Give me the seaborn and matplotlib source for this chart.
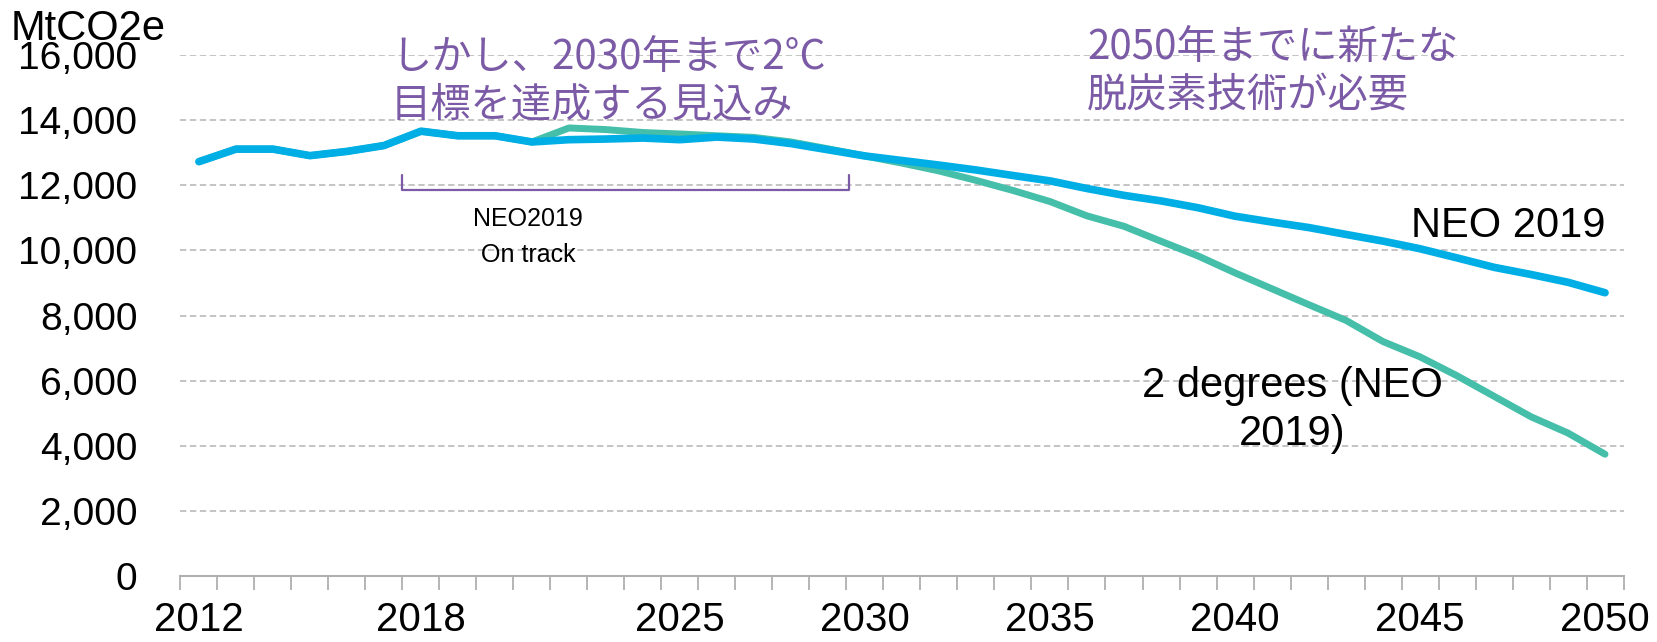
import matplotlib
matplotlib.use("Agg")
import matplotlib.pyplot as plt
import matplotlib.ticker as mticker
import numpy as np
import pandas as pd
import seaborn as sns

# data (MtCO2e)
years = list(range(2012, 2051))
neo_2019 = [12725, 13110, 13110, 12910, 13040, 13220, 13660, 13520, 13520, 13330,
            13400, 13420, 13450, 13400, 13480, 13420, 13280, 13090, 12900, 12760,
            12620, 12470, 12300, 12135, 11900, 11690, 11520, 11310, 11050, 10870,
            10700, 10490, 10285, 10050, 9770, 9480, 9260, 9020, 8700]
two_degrees = [12725, 13110, 13110, 12910, 13040, 13220, 13660, 13520, 13520, 13330,
               13760, 13710, 13620, 13575, 13520, 13470, 13330, 13120, 12900, 12680,
               12440, 12150, 11840, 11500, 11060, 10740, 10280, 9830, 9310, 8820,
               8330, 7850, 7200, 6730, 6150, 5520, 4890, 4390, 3740]
year_labels = [2012, 2018, 2025, 2030, 2035, 2040, 2045, 2050]
y_ticks = list(range(0, 16001, 2000))

df = pd.DataFrame({"year": years, "NEO 2019": neo_2019, "2 degrees": two_degrees})

BLUE = "#00AEE6"
GREEN = "#45BFA9"
PURPLE = "#7B5AA6"
GRID = "#BFBFBF"

sns.set_style("white")
plt.rcParams["font.family"] = ["Liberation Sans", "Noto Sans CJK JP", "DejaVu Sans"]
plt.rcParams["text.color"] = "black"
plt.rcParams["xtick.color"] = "black"
plt.rcParams["ytick.color"] = "black"
jp = ["Noto Sans CJK JP", "DejaVu Sans"]

fig = plt.figure(figsize=(16.57, 6.42), dpi=100)
ax = fig.add_axes([0.1089, 0.1028, 0.8709, 0.8115])

sns.lineplot(data=df, x="year", y="2 degrees", ax=ax, color=GREEN, lw=5.0,
             solid_capstyle="round", solid_joinstyle="round")
sns.lineplot(data=df, x="year", y="NEO 2019", ax=ax, color=BLUE, lw=5.5,
             solid_capstyle="round", solid_joinstyle="round")

ax.set_xlim(2011.5, 2050.5)
ax.set_ylim(0, 16000)
ax.set_xlabel("")
ax.set_ylabel("")

# gridlines
ax.set_yticks(y_ticks)
ax.yaxis.set_major_formatter(mticker.FuncFormatter(lambda v, p: f"{int(v):,}"))
for v in y_ticks[1:]:
    ax.axhline(v, color=GRID, lw=1.3, ls=(0, (3.5, 2)), zorder=0)

ax.set_xticks(year_labels)
ax.set_xticks(np.arange(2011.5, 2051, 1), minor=True)
ax.tick_params(axis="x", which="major", bottom=False, length=0, pad=18, labelsize=29)
ax.tick_params(axis="x", which="minor", bottom=True, length=10, width=1.3,
               color="#B0B0B0", direction="out")
ax.tick_params(axis="y", left=False, length=0, pad=31, labelsize=28)

for s in ["top", "right", "left"]:
    ax.spines[s].set_visible(False)
ax.spines["bottom"].set_color("#B0B0B0")
ax.spines["bottom"].set_linewidth(1.5)

fig.text(0.0066, 0.9377, "MtCO2e", fontsize=30, va="baseline", ha="left")

# annotations (va="baseline" sits on the last line)
ax.text(2017.19, 14100, "しかし、2030年まで2°C\n目標を達成する見込み", family=jp,
        fontsize=29, color=PURPLE, ha="left", va="baseline", clip_on=False)
ax.text(2036.0, 14430, "2050年までに新たな\n脱炭素技術が必要", family=jp,
        fontsize=29, color=PURPLE, ha="left", va="baseline", clip_on=False)

bx0, bx1, by0, by1 = 2017.48, 2029.57, 11855, 12316
ax.plot([bx0, bx0, bx1, bx1], [by1, by0, by0, by1], color=PURPLE, lw=1.6)
ax.text(2020.9, 9644, "NEO2019\nOn track", fontsize=18, ha="center",
        va="baseline", linespacing=1.65)

ax.text(2050.0, 10420, "NEO 2019", fontsize=30, ha="right", va="baseline")
ax.text(2041.54, 4030, "2 degrees (NEO\n2019)", fontsize=30, ha="center",
        va="baseline", multialignment="center", linespacing=1.25)

fig.savefig("out.png", dpi=100)
